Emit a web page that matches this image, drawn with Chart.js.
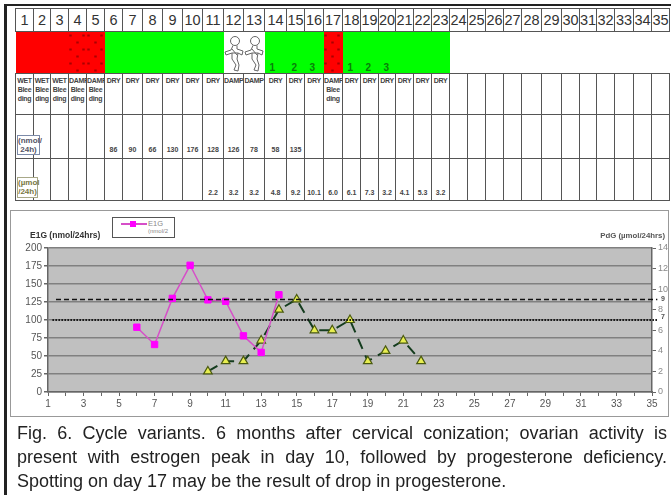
<!DOCTYPE html>
<html>
<head>
<meta charset="utf-8">
<script src="https://cdn.jsdelivr.net/npm/chart.js@4/dist/chart.umd.min.js"></script>
<style>
html,body{margin:0;padding:0;background:#fff;overflow:hidden;}
body{width:671px;height:495px;position:relative;font-family:"Liberation Sans",Arial,sans-serif;}
#frameTop{position:absolute;left:4px;top:4px;width:667px;height:2px;background:#222;}
#frameLeft{position:absolute;left:4px;top:4px;width:2.5px;height:491px;background:#222;}
#panel{position:absolute;left:10px;top:210px;width:657px;height:205px;border:1.5px solid #999;background:#fff;}
#chart{position:absolute;left:0;top:0;}
#legend{position:absolute;left:112px;top:217px;width:61px;height:19px;border:1px solid #555;background:#fff;color:#888;}
#legend i{position:absolute;left:8px;top:5px;width:26px;height:2px;background:#d64fc8;}
#legend b{position:absolute;left:17px;top:3px;width:6px;height:6px;background:#f0f;}
#legend span{position:absolute;left:35px;top:1px;font-size:7.5px;}
#legend em{position:absolute;left:35px;top:10px;font-size:6px;font-style:normal;}
#cycle{position:absolute;left:15px;top:8px;width:654px;border-collapse:collapse;table-layout:fixed;}
#cycle td{border:1.5px solid #555;padding:0;text-align:center;overflow:hidden;position:relative;white-space:nowrap;}
#cycle tr.day td{font-size:14.5px;color:#333;height:22px;}
#cycle tr.colour td{height:41px;border-left:none;border-right:none;}
#cycle tr.mucus td{height:41px;vertical-align:top;font-size:7px;letter-spacing:-0.35px;line-height:9px;font-weight:bold;color:#444;padding-top:2px;box-sizing:border-box;}
#cycle tr.e1g td{height:44px;vertical-align:bottom;font-size:7px;font-weight:bold;color:#444;padding-bottom:5px;box-sizing:border-box;}
#cycle tr.pdg td{height:42px;vertical-align:bottom;font-size:7px;font-weight:bold;color:#444;padding-bottom:4px;box-sizing:border-box;}
td.red{background:#f00;}
td.spot{background-color:#f00;background-image:radial-gradient(#a00 1px,transparent 1.4px),radial-gradient(#a00 1px,transparent 1.4px);background-size:13px 14px;background-position:2px 3px,8px 10px;}
td.green{background:#0f0;}
td.green span{position:absolute;left:5px;bottom:0;font-size:10px;font-weight:bold;color:#0a7d0a;}
td.baby svg{display:block;margin:2px auto 0;}
.unit{position:absolute;font-size:8px;line-height:9px;text-align:center;background:#fff;box-sizing:border-box;font-weight:bold;white-space:nowrap;}
#unitE{left:17px;top:135px;width:23px;height:20px;border:1px solid #7c8aa8;color:#556;}
#unitP{left:17px;top:177px;width:21px;height:21px;border:1px solid #a8a888;color:#774;}
#caption{position:absolute;left:17px;top:421px;width:650px;font-size:18px;line-height:24px;color:#222;}
#caption div{text-align:justify;text-align-last:justify;white-space:nowrap;}
</style>
</head>
<body>
<div id="frameTop"></div>
<div id="frameLeft"></div>
<table id="cycle"></table>
<div class="unit" id="unitE">(nmol/<br>24h)</div>
<div class="unit" id="unitP">(µmol<br>/24h)</div>
<div id="panel"></div>
<canvas id="chart" width="671" height="495"></canvas>
<div id="legend"><i></i><b></b><span>E1G</span><em>(nmol/2</em></div>
<div id="caption">
<div>Fig. 6. Cycle variants. 6 months after cervical conization; ovarian activity is</div>
<div>present with estrogen peak in day 10, followed by progesterone deficiency.</div>
<div style="width:486px">Spotting on day 17 may be the result of drop in progesterone.</div>
</div>

<script>
// table rows, one entry per cycle day
const tableDays=[1,2,3,4,5,6,7,8,9,10,11,12,13,14,15,16,17,18,19,20,21,22,23,24,25,26,27,28,29,30,31,32,33,34,35];
const dayColours=["red","red","red","spot","spot","green","green","green","green","green","green","baby","baby","green","green","green","spot","green","green","green","green","green","green"];
const peakCounts=["","","","","","","","","","","","","","1","2","3","","1","2","3"];
const mucusNotes=["WET|Blee|ding","WET|Blee|ding","WET|Blee|ding","DAMP|Blee|ding","DAMP|Blee|ding","DRY","DRY","DRY","DRY","DRY","DRY","DAMP","DAMP","DRY","DRY","DRY","DAMP|Blee|ding","DRY","DRY","DRY","DRY","DRY","DRY"];
const e1gRow=["","","","","","86","90","66","130","176","128","126","78","58","135"];
const pdgRow=["","","","","","","","","","","2.2","3.2","3.2","4.8","9.2","10.1","6.0","6.1","7.3","3.2","4.1","5.3","3.2"];

// chart series
const xLabelsMin=1, xLabelsMax=35;
const e1gDays=[6,7,8,9,10,11,12,13,14];
const e1gValues=[90,66,130,176,128,126,78,55,135];
const pdgDays=[10,11,12,13,14,15,16,17,18,19,20,21,22];
const pdgValues=[2,3,3,5,8,9,6,6,7,3,4,5,3];
const upperLineX=[1.45,35.3];
const upperLineY=[9,9];
const lowerLineX=[1.25,35.3];
const lowerLineY=[7,7];

const colWidths=[18,17,18,18,18,18,20,20,20,20,21,20,21,22,18,19,19,18,18,17,18,18,18,18,18,18,18,20,20,18,17,18,19,18,18];

const babySvg='<svg width="20" height="37" viewBox="0 0 20 37" fill="none" stroke="#666" stroke-width="1"><circle cx="11" cy="6" r="4.5"/><path d="M9 10.5 L7 15 L1 17 L2 20 L8 18 L8 24 L12 30 L10 35 L14 36 L15 30 L13 24 L14 18 L18 20 L19 16 L13 14 L13 10.5"/><path d="M8 18 L14 18 M8 14 L13 20"/></svg>';

function buildTable(){
  let html="<colgroup>"+colWidths.map(w=>`<col style="width:${w}px">`).join("")+"</colgroup>";
  html+='<tr class="day">'+tableDays.map(d=>`<td>${d}</td>`).join("")+"</tr>";
  html+='<tr class="colour">'+tableDays.map((d,i)=>{
    const c=dayColours[i]||"";
    if(c==="baby") return `<td class="baby">${babySvg}</td>`;
    const num=peakCounts[i]?`<span>${peakCounts[i]}</span>`:"";
    return `<td class="${c}">${num}</td>`;
  }).join("")+"</tr>";
  html+='<tr class="mucus">'+tableDays.map((d,i)=>`<td>${(mucusNotes[i]||"").split("|").join("<br>")}</td>`).join("")+"</tr>";
  html+='<tr class="e1g">'+tableDays.map((d,i)=>`<td>${e1gRow[i]||""}</td>`).join("")+"</tr>";
  html+='<tr class="pdg">'+tableDays.map((d,i)=>`<td>${pdgRow[i]||""}</td>`).join("")+"</tr>";
  document.getElementById("cycle").innerHTML=html;
}
buildTable();

const toPoints=(xs,ys)=>xs.map((x,i)=>({x:x,y:ys[i]}));

const panelExtras={
  id:"panelExtras",
  beforeDraw(chart){
    const {ctx,chartArea:a}=chart;
    ctx.save();
    ctx.fillStyle="#c0c0c0";
    ctx.fillRect(a.left,a.top,a.right-a.left,a.bottom-a.top);
    ctx.restore();
  },
  afterDraw(chart){
    const {ctx,scales}=chart;
    ctx.save();
    ctx.font='bold 8.5px "Liberation Sans"';
    ctx.fillStyle="#333";
    ctx.textAlign="left";
    ctx.fillText("E1G (nmol/24hrs)",30,238);
    ctx.font='bold 7.8px "Liberation Sans"';
    ctx.fillStyle="#555";
    ctx.textAlign="right";
    ctx.fillText("PdG (µmol/24hrs)",665,238);
    ctx.font='bold 7px "Liberation Sans"';
    ctx.textAlign="left";
    ctx.fillText("9",661,scales.y2.getPixelForValue(9)+2);
    ctx.fillText("7",661,scales.y2.getPixelForValue(7)-1);
    ctx.restore();
  }
};

new Chart(document.getElementById("chart"),{
  type:"line",
  plugins:[panelExtras],
  data:{datasets:[
    {label:"upper",data:toPoints(upperLineX,upperLineY),yAxisID:"y2",borderColor:"#111",borderWidth:1.5,borderDash:[5,3],pointRadius:0,clip:false},
    {label:"lower",data:toPoints(lowerLineX,lowerLineY),yAxisID:"y2",borderColor:"#111",borderWidth:2,borderDash:[1.5,1.5],pointRadius:0,clip:false},
    {label:"E1G",data:toPoints(e1gDays,e1gValues),yAxisID:"y",borderColor:"#d64fc8",borderWidth:1.5,pointStyle:"rect",pointRadius:4.5,pointBackgroundColor:"#f0f",pointBorderColor:"#f0f",pointBorderWidth:1},
    {label:"PdG",data:toPoints(pdgDays,pdgValues),yAxisID:"y2",borderColor:"#143c1e",borderWidth:2,borderDash:[11,7],pointStyle:"triangle",pointRadius:5,pointBackgroundColor:"#e8ee50",pointBorderColor:"#4a5a10",pointBorderWidth:1.2}
  ]},
  options:{
    responsive:false,
    animation:false,
    layout:{padding:{top:248,left:0,right:0,bottom:0}},
    plugins:{legend:{display:false},tooltip:{enabled:false}},
    scales:{
      x:{type:"linear",min:xLabelsMin,max:xLabelsMax,
        afterFit(s){s.height=103;},
        afterBuildTicks(s){s.ticks=tableDays.map(d=>({value:d}));},
        grid:{drawOnChartArea:false,color:"#666",tickLength:4},
        border:{color:"#666",width:1.5},
        ticks:{autoSkip:false,maxRotation:0,padding:2,color:"#555",font:{family:"Liberation Sans",size:10},callback:v=>v%2===1?v:""}},
      y:{position:"left",min:0,max:200,
        afterFit(s){s.width=48;},
        grid:{color:"#808080",lineWidth:1.5,tickLength:4,tickColor:"#666"},
        border:{color:"#666",width:1.5},
        ticks:{stepSize:25,padding:2,color:"#555",font:{family:"Liberation Sans",size:10}}},
      y2:{position:"right",min:0,max:14,
        afterFit(s){s.width=19;},
        grid:{drawOnChartArea:false,color:"#666",tickLength:4},
        border:{color:"#666",width:1.5},
        ticks:{stepSize:2,padding:2,color:"#888",font:{family:"Liberation Sans",size:9}}}
    }
  }
});
</script>
</body>
</html>
